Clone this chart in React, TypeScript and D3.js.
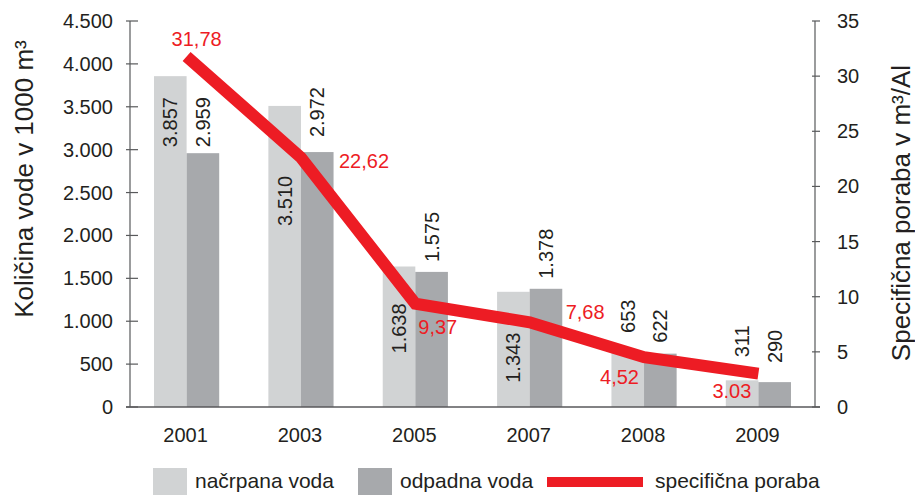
import { useEffect, useRef } from 'react';
import * as d3 from 'd3';

const years = ['2001', '2003', '2005', '2007', '2008', '2009'];
const pumped = [3857, 3510, 1638, 1343, 653, 311];
const wastewater = [2959, 2972, 1575, 1378, 622, 290];
const specific = [31.78, 22.62, 9.37, 7.68, 4.52, 3.03];
const specificLabels = ['31,78', '22,62', '9,37', '7,68', '4,52', '3.03'];
const leftTicks = [0, 500, 1000, 1500, 2000, 2500, 3000, 3500, 4000, 4500];
const rightTicks = [0, 5, 10, 15, 20, 25, 30, 35];

// label placement tweaks (px), kept apart from the data
const pumpedLabelShift = [71, 120, 87, 91, -18, -23];
const wasteLabelShift = [-6, -15, -10, -10, -11, -19];
const specLabelShift: [number, number][] = [[-15, -11], [38, 10], [3, 30], [36, -3], [-44, 27], [-46, 24.5]];

const W = 915, H = 495;
const left = 130, right = 815, top = 21, bottom = 407;
const LIGHT = '#d1d3d4', DARK = '#a7a9ac', RED = '#ed1c24', INK = '#231f20', AXIS = '#58595b';
const FONT = '"Liberation Sans", Arial, Helvetica, sans-serif';

const loc = d3.formatLocale({ decimal: ',', thousands: '.', grouping: [3], currency: ['', ''] });
const fmt = loc.format(',d');

const App = () => {
  const svgRef = useRef<SVGSVGElement>(null);

  const x0 = d3.scaleBand().domain(years).range([left, right]).paddingInner(0.43).paddingOuter(0.21);
  const x1 = d3.scaleBand().domain(['p', 'w']).range([0, x0.bandwidth()]);
  const yL = d3.scaleLinear().domain([0, 4500]).range([bottom, top]);
  const yR = d3.scaleLinear().domain([0, 35]).range([bottom, top]);
  const cx = (i: number) => (x0(years[i]) as number) + x0.bandwidth() / 2;

  useEffect(() => {
    const svg = d3.select(svgRef.current);
    svg.selectAll('*').remove();

    // bars
    const groups = svg.append('g').selectAll('g').data(years).join('g')
      .attr('transform', (d) => `translate(${x0(d)},0)`);
    groups.append('rect')
      .attr('x', x1('p') as number).attr('width', x1.bandwidth())
      .attr('y', (_, i) => yL(pumped[i])).attr('height', (_, i) => bottom - yL(pumped[i]))
      .attr('fill', LIGHT);
    groups.append('rect')
      .attr('x', x1('w') as number).attr('width', x1.bandwidth())
      .attr('y', (_, i) => yL(wastewater[i])).attr('height', (_, i) => bottom - yL(wastewater[i]))
      .attr('fill', DARK);

    // bar value labels, rotated
    const barLabel = (vals: number[], shift: number[], key: string) => {
      svg.append('g').selectAll('text').data(vals).join('text')
        .attr('transform', (v, i) => {
          const bx = (x0(years[i]) as number) + (x1(key) as number) + x1.bandwidth() / 2 + 7;
          const by = yL(v) + shift[i];
          return `translate(${bx},${by}) rotate(-90)`;
        })
        .attr('font-size', 20).attr('font-family', FONT).attr('fill', INK)
        .text((v) => fmt(v));
    };
    barLabel(pumped, pumpedLabelShift, 'p');
    barLabel(wastewater, wasteLabelShift, 'w');

    // left axis
    const gl = svg.append('g');
    gl.append('line').attr('x1', left).attr('x2', left).attr('y1', top).attr('y2', bottom)
      .attr('stroke', AXIS).attr('stroke-width', 1.2);
    gl.selectAll('line.t').data(leftTicks).join('line').attr('class', 't')
      .attr('x1', left - 4).attr('x2', left + 8).attr('y1', (d) => yL(d)).attr('y2', (d) => yL(d))
      .attr('stroke', AXIS).attr('stroke-width', 1.2);
    gl.selectAll('text').data(leftTicks).join('text')
      .attr('x', 113).attr('y', (d) => yL(d) + 7).attr('text-anchor', 'end')
      .attr('font-size', 20).attr('font-family', FONT).attr('fill', INK)
      .text((d) => fmt(d));

    // right axis
    const gr = svg.append('g');
    gr.append('line').attr('x1', right).attr('x2', right).attr('y1', top).attr('y2', bottom)
      .attr('stroke', AXIS).attr('stroke-width', 1.2);
    gr.selectAll('line.t').data(rightTicks).join('line').attr('class', 't')
      .attr('x1', right - 3).attr('x2', right + 5).attr('y1', (d) => yR(d)).attr('y2', (d) => yR(d))
      .attr('stroke', AXIS).attr('stroke-width', 1.2);
    gr.selectAll('text').data(rightTicks).join('text')
      .attr('x', 837).attr('y', (d) => yR(d) + 7)
      .attr('font-size', 20).attr('font-family', FONT).attr('fill', INK)
      .text((d) => String(d));

    // bottom axis
    svg.append('line').attr('x1', left - 4).attr('x2', right + 5).attr('y1', bottom).attr('y2', bottom)
      .attr('stroke', AXIS).attr('stroke-width', 1.4);
    svg.append('g').selectAll('text').data(years).join('text')
      .attr('x', (_, i) => cx(i) - 1).attr('y', 442).attr('text-anchor', 'middle')
      .attr('font-size', 20).attr('font-family', FONT).attr('fill', INK)
      .text((d) => d);

    // line
    const ln = d3.line<number>().x((_, i) => cx(i)).y((v) => yR(v));
    svg.append('path').attr('d', ln(specific)).attr('fill', 'none')
      .attr('stroke', RED).attr('stroke-width', 12).attr('stroke-linejoin', 'miter');

    svg.append('g').selectAll('text').data(specific).join('text')
      .attr('x', (_, i) => cx(i) + specLabelShift[i][0])
      .attr('y', (v, i) => yR(v) + specLabelShift[i][1])
      .attr('font-size', 20).attr('font-family', FONT).attr('fill', RED)
      .text((_, i) => specificLabels[i]);

    // axis titles
    svg.append('text').attr('transform', 'translate(33,179) rotate(-90)')
      .attr('text-anchor', 'middle').attr('font-size', 26).attr('font-family', FONT).attr('fill', INK)
      .text('Količina vode v 1000 m³');
    svg.append('text').attr('transform', 'translate(910,213) rotate(-90)')
      .attr('text-anchor', 'middle').attr('font-size', 26).attr('font-family', FONT).attr('fill', INK)
      .text('Specifična poraba v m³/Al');

    // legend
    const lg = svg.append('g').attr('font-size', 21).attr('font-family', FONT).attr('fill', INK);
    lg.append('rect').attr('x', 153).attr('y', 468).attr('width', 34).attr('height', 27).attr('fill', LIGHT);
    lg.append('text').attr('x', 195).attr('y', 488).text('načrpana voda');
    lg.append('rect').attr('x', 358).attr('y', 468).attr('width', 34).attr('height', 27).attr('fill', DARK);
    lg.append('text').attr('x', 400).attr('y', 488).text('odpadna voda');
    lg.append('rect').attr('x', 547).attr('y', 477).attr('width', 96).attr('height', 10).attr('fill', RED);
    lg.append('text').attr('x', 655).attr('y', 488).text('specifična poraba');
  }, []);

  return (
    <svg ref={svgRef} width={W} height={H}
      style={{ position: 'absolute', left: 0, top: 0, background: '#fff' }} />
  );
};

export default App;
